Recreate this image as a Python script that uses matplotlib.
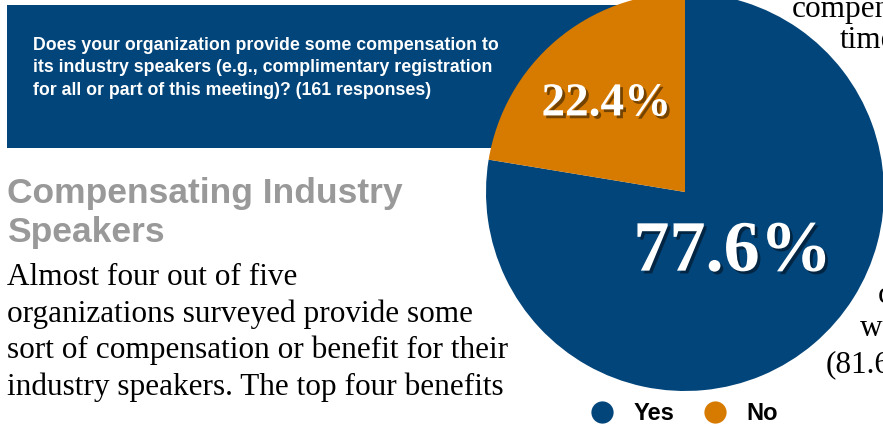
import numpy as np
import matplotlib
matplotlib.use("Agg")
import matplotlib.pyplot as plt
from matplotlib import patheffects as pe
from matplotlib import transforms
from matplotlib.lines import Line2D
from matplotlib.patches import Rectangle

# --- data ---------------------------------------------------------------
categories = ["Yes", "No"]
shares = [77.6, 22.4]
colors = ["#02457a", "#d67a00"]

question_lines = ["Does your organization provide some compensation to",
                  "its industry speakers (e.g., complimentary registration",
                  "for all or part of this meeting)? (161 responses)"]
heading_lines = ["Compensating Industry", "Speakers"]
body_lines = ["Almost four out of five",
              "organizations surveyed provide some",
              "sort of compensation or benefit for their",
              "industry speakers. The top four benefits"]
side_lines = ["compensation", "time", "c", "w", "(81.6%)"]

W, H = 883, 430
fig = plt.figure(figsize=(W / 100, H / 100), dpi=100)
fig.patch.set_facecolor("white")

# page layer in pixel coordinates (y grows downward)
ax = fig.add_axes([0, 0, 1, 1])
ax.set_xlim(0, W)
ax.set_ylim(H, 0)
ax.axis("off")

ax.add_patch(Rectangle((7, 5), 640, 143, facecolor="#02457a", edgecolor="none"))
for i, line in enumerate(question_lines):
    ax.text(33, 50 + i * 22.5, line, color="white", fontsize=12.8,
            fontweight="bold", family="Liberation Sans", va="baseline", ha="left")

for i, line in enumerate(heading_lines):
    ax.text(7, 203 + i * 39, line, color="#999999", fontsize=25.5,
            fontweight="bold", family="Liberation Sans", va="baseline", ha="left")

for i, line in enumerate(body_lines):
    ax.text(7, 285 + i * 36.7, line, color="black", fontsize=22.5,
            family="Liberation Serif", va="baseline", ha="left")

side_pos = [(792, 17), (840, 48), (878, 303), (860, 336), (826, 372)]
for (x, y), word in zip(side_pos, side_lines):
    ax.text(x, y, word, color="black", fontsize=22.5,
            family="Liberation Serif", va="baseline", ha="left")

# pie chart
cx, cy, r = 685, 192, 199
pax = fig.add_axes([(cx - r) / W, (H - cy - r) / H, 2 * r / W, 2 * r / H])
wedges, _, autotexts = pax.pie(
    shares, colors=colors, startangle=90, counterclock=False,
    autopct="%.1f%%", labels=None,
    wedgeprops=dict(linewidth=0))
pax.set_xlim(-1, 1)
pax.set_ylim(-1, 1)
pax.axis("off")

label_dist = [0.37, 0.61]
label_size = [52, 34]
shadow = [pe.SimplePatchShadow(offset=(2, -2), shadow_rgbFace="black", alpha=0.45),
          pe.Normal()]
nudge = transforms.offset_copy(pax.transData, fig=fig, x=0, y=-5, units="dots")
for w, t, d, s in zip(wedges, autotexts, label_dist, label_size):
    mid = np.deg2rad((w.theta1 + w.theta2) / 2)
    t.set_position((d * np.cos(mid), d * np.sin(mid)))
    t.set_transform(nudge)
    t.set_fontsize(s)
    t.set_fontweight("bold")
    t.set_family("Liberation Serif")
    t.set_color("white")
    t.set_path_effects(shadow)

handles = [Line2D([], [], linestyle="none", marker="o", markersize=16,
                  markerfacecolor=c, markeredgecolor="none") for c in colors]
fig.legend(handles, categories, loc="center", ncol=2,
           bbox_to_anchor=(684 / W, (H - 414) / H), frameon=False,
           prop=dict(family="Liberation Sans", weight="bold", size=17),
           handletextpad=0.82, columnspacing=1.25, handlelength=1.0,
           borderpad=0, borderaxespad=0)

fig.savefig("out.png", dpi=100, facecolor="white")
